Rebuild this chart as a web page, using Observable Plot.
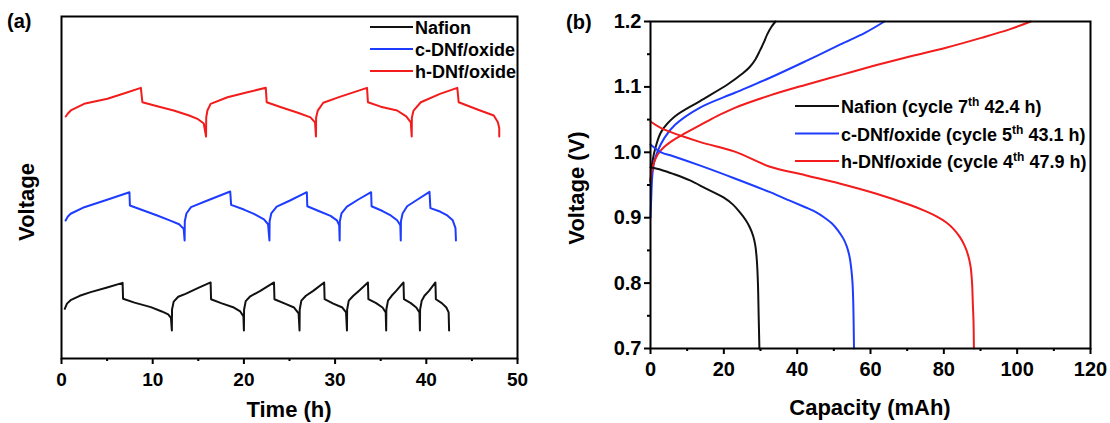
<!DOCTYPE html>
<html><head><meta charset="utf-8">
<script src="https://cdn.jsdelivr.net/npm/d3@7"></script>
<script src="https://cdn.jsdelivr.net/npm/@observablehq/plot@0.6"></script>
<style>
body{margin:0;background:#fff;}
#wrap{position:relative;width:1110px;height:423px;overflow:hidden;background:#fff;}
#wrap > svg{position:absolute;top:0;}
</style></head><body><div id="wrap"></div>
<script>
// ---------- names & colours ----------
const seriesNames = ["Nafion", "c-DNf/oxide", "h-DNf/oxide"];
const seriesColors = ["#111111", "#1e3cff", "#f21c1c"];
const rightLegend = [
  ["Nafion (cycle 7", "th", " 42.4 h)"],
  ["c-DNf/oxide (cycle 5", "th", " 43.1 h)"],
  ["h-DNf/oxide (cycle 4", "th", " 47.9 h)"]
];

// ---------- panel (a): time (h) vs stacked voltage (a.u.) ----------
const nafionTime = [
  [0.36,0.507],[0.6,0.56],[1.0,0.595],[2.0,0.64],[3.2,0.677],[5.0,0.725],[6.7,0.772],
  [6.75,0.61],[8.0,0.57],[9.8,0.524],[11.0,0.48],[11.7,0.45],[12.0,0.415],[12.1,0.286],
  [12.12,0.50],[12.3,0.58],[12.8,0.63],[13.6,0.66],[15.0,0.72],[16.35,0.776],
  [16.4,0.605],[17.5,0.565],[18.9,0.52],[19.6,0.48],[19.95,0.43],[20.0,0.286],
  [20.02,0.50],[20.2,0.585],[20.7,0.635],[21.8,0.69],[23.3,0.776],
  [23.35,0.605],[24.5,0.56],[25.5,0.52],[26.0,0.46],[26.1,0.286],
  [26.12,0.50],[26.3,0.59],[26.8,0.64],[27.6,0.69],[28.8,0.776],
  [28.85,0.605],[29.8,0.56],[30.8,0.52],[31.2,0.47],[31.3,0.286],
  [31.32,0.50],[31.5,0.59],[32.0,0.64],[32.6,0.69],[33.6,0.776],
  [33.65,0.605],[34.5,0.565],[35.2,0.52],[35.55,0.47],[35.6,0.286],
  [35.62,0.50],[35.8,0.59],[36.2,0.64],[36.7,0.69],[37.5,0.776],
  [37.55,0.605],[38.3,0.565],[38.9,0.52],[39.25,0.47],[39.3,0.286],
  [39.32,0.50],[39.5,0.59],[39.8,0.64],[40.3,0.69],[41.0,0.776],
  [41.05,0.605],[41.7,0.565],[42.2,0.52],[42.45,0.47],[42.5,0.286]
];
const cdnfTime = [
  [0.45,1.408],[0.7,1.45],[1.0,1.477],[2.5,1.544],[5.0,1.62],[7.45,1.697],
  [7.5,1.561],[9.0,1.51],[10.5,1.459],[12.0,1.405],[12.9,1.37],[13.4,1.323],[13.5,1.204],
  [13.52,1.40],[13.7,1.48],[14.2,1.544],[16.0,1.612],[18.5,1.704],
  [18.6,1.568],[20.0,1.52],[21.1,1.476],[22.2,1.42],[22.65,1.37],[22.8,1.204],
  [22.82,1.40],[23.0,1.48],[23.6,1.55],[25.0,1.61],[26.9,1.697],
  [26.95,1.554],[28.2,1.505],[29.5,1.455],[30.2,1.41],[30.45,1.36],[30.5,1.204],
  [30.52,1.40],[30.7,1.48],[31.3,1.55],[32.5,1.62],[33.95,1.697],
  [34.0,1.554],[35.2,1.505],[36.1,1.46],[36.8,1.41],[37.15,1.36],[37.2,1.204],
  [37.22,1.40],[37.4,1.48],[37.9,1.554],[39.0,1.62],[40.35,1.70],
  [40.45,1.535],[41.5,1.50],[42.3,1.46],[42.9,1.41],[43.2,1.33],[43.25,1.204]
];
const hdnfTime = [
  [0.47,2.469],[0.7,2.50],[1.02,2.531],[2.48,2.599],[5.04,2.65],[7.0,2.71],[8.7,2.762],
  [8.87,2.615],[10.5,2.575],[12.3,2.531],[14.0,2.48],[14.9,2.446],[15.6,2.398],[15.85,2.265],
  [15.87,2.46],[16.0,2.531],[16.35,2.599],[18.2,2.666],[20.5,2.72],[22.4,2.762],
  [22.5,2.615],[24.0,2.567],[26.0,2.505],[27.3,2.46],[27.8,2.41],[27.9,2.265],
  [27.92,2.46],[28.1,2.53],[28.7,2.61],[30.5,2.67],[33.5,2.762],
  [33.6,2.615],[35.0,2.57],[36.8,2.531],[37.8,2.47],[38.3,2.41],[38.4,2.265],
  [38.42,2.46],[38.6,2.53],[39.4,2.615],[41.5,2.70],[43.4,2.762],
  [43.55,2.615],[45.9,2.531],[47.4,2.48],[47.85,2.41],[48.0,2.35],[48.0,2.265]
];
const timeTicks = [0, 10, 20, 30, 40, 50];
const timeMinorTicks = [5, 15, 25, 35, 45];

// ---------- panel (b): capacity (mAh) vs voltage (V) ----------
const nafionCharge = [[0,0.955],[0.5,0.985],[1.5,1.01],[3.0,1.032],[6.7,1.055],[13.4,1.078],[21.1,1.104],[25,1.12],[27,1.13],[28.6,1.142],[29.8,1.155],[30.9,1.168],[31.8,1.18],[33,1.192],[34.1,1.2]];
const cdnfCharge = [[0,0.90],[0.2,0.93],[0.5,0.965],[1.0,0.985],[1.9,1.001],[3.8,1.022],[6.7,1.042],[13.4,1.068],[23,1.091],[32.6,1.114],[42.2,1.139],[51.8,1.165],[58.6,1.183],[63.8,1.2]];
const hdnfCharge = [[0,0.955],[0.3,0.97],[1,0.985],[2,0.997],[3.5,1.007],[5.5,1.016],[8.5,1.026],[13.4,1.041],[18,1.055],[23,1.068],[32.6,1.087],[42.2,1.103],[51.8,1.118],[61.4,1.133],[71,1.147],[80.6,1.16],[90.2,1.175],[97.9,1.188],[103.7,1.2]];
const nafionDischarge = [[0,0.977],[3,0.973],[6.2,0.967],[10.8,0.957],[15.3,0.944],[19.9,0.931],[22.5,0.92],[24.4,0.908],[26,0.896],[27.1,0.885],[28,0.872],[28.6,0.857],[29,0.835],[29.3,0.8],[29.5,0.75],[29.7,0.7]];
const cdnfDischarge = [[0,1.012],[2.9,1.0],[6.2,0.994],[13.4,0.98],[23,0.96],[32.6,0.939],[38,0.926],[42.2,0.916],[45,0.909],[47.5,0.9],[49.5,0.891],[51.2,0.88],[52.6,0.868],[53.6,0.855],[54.3,0.84],[54.8,0.82],[55.1,0.8],[55.3,0.77],[55.4,0.74],[55.5,0.7]];
const hdnfDischarge = [[0,1.047],[2.9,1.037],[13.4,1.016],[23,1.001],[32.6,0.978],[42.2,0.965],[51.8,0.952],[61.4,0.937],[71,0.919],[75,0.91],[78,0.902],[80.6,0.893],[82.6,0.883],[84.3,0.871],[85.6,0.858],[86.6,0.843],[87.3,0.825],[87.7,0.8],[87.9,0.77],[88.1,0.74],[88.2,0.7]];
const capTicks = [0, 20, 40, 60, 80, 100, 120];
const capMinorTicks = [10, 30, 50, 70, 90, 110];
const voltTicks = [0.7, 0.8, 0.9, 1.0, 1.1, 1.2];
const voltMinorTicks = [0.75, 0.85, 0.95, 1.05, 1.15];

// ---------- build tables ----------
const timeRows = [nafionTime, cdnfTime, hdnfTime].flatMap((arr, i) =>
  arr.map(([t, v]) => ({series: seriesNames[i], t, v})));
const capSets = [
  [nafionCharge, 0, "c"], [cdnfCharge, 1, "c"], [hdnfCharge, 2, "c"],
  [nafionDischarge, 0, "d"], [cdnfDischarge, 1, "d"], [hdnfDischarge, 2, "d"]
];
const capRows = capSets.flatMap(([arr, i, k]) =>
  arr.map(([c, v]) => ({series: seriesNames[i], key: seriesNames[i] + k, c, v})));

const FONT = "'Liberation Sans', Arial, sans-serif";
const colorScale = {domain: seriesNames, range: seriesColors};

const left = Plot.plot({
  width: 555, height: 423,
  marginLeft: 61, marginRight: 38, marginTop: 16, marginBottom: 65,
  x: {domain: [0, 50]},
  y: {domain: [0, 3.49], axis: null},
  color: colorScale,
  style: {fontFamily: FONT, fontWeight: "bold", fontSize: "19px", background: "transparent", overflow: "visible", color: "#000"},
  marks: [
    Plot.line(timeRows, {x: "t", y: "v", z: "series", stroke: "series", strokeWidth: 2}),
    Plot.frame({stroke: "#000", strokeWidth: 2}),
    Plot.axisX(timeTicks, {tickSize: 6, tickPadding: 8, strokeWidth: 2, label: null}),
    Plot.axisX(timeMinorTicks, {tickSize: 3, text: null, strokeWidth: 2, label: null})
  ]
});
left.style.left = "0px";

const right = Plot.plot({
  width: 555, height: 423,
  marginLeft: 95, marginRight: 20, marginTop: 21, marginBottom: 75,
  x: {domain: [0, 120]},
  y: {domain: [0.7, 1.2]},
  color: colorScale,
  style: {fontFamily: FONT, fontWeight: "bold", fontSize: "20px", background: "transparent", overflow: "visible", color: "#000"},
  marks: [
    Plot.line(capRows, {x: "c", y: "v", z: "key", stroke: "series", strokeWidth: 2, curve: "catmull-rom"}),
    Plot.frame({stroke: "#000", strokeWidth: 2}),
    Plot.axisX(capTicks, {tickSize: 6, tickPadding: 7, strokeWidth: 2, label: null}),
    Plot.axisX(capMinorTicks, {tickSize: 3, text: null, strokeWidth: 2, label: null}),
    Plot.axisY(voltTicks, {tickSize: 6, tickPadding: 3, strokeWidth: 2, tickFormat: d => d.toFixed(1), label: null}),
    Plot.axisY(voltMinorTicks, {tickSize: 3, text: null, strokeWidth: 2, label: null})
  ]
});
right.style.left = "555px";

const wrap = document.getElementById("wrap");
wrap.append(left, right);

// ---------- annotation overlay: panel letters, axis titles, legends ----------
const ov = d3.create("svg").attr("width", 1110).attr("height", 423)
  .style("left", "0px").style("pointer-events", "none")
  .attr("font-family", FONT).attr("font-weight", "bold").attr("fill", "#000");

ov.append("text").attr("x", 7).attr("y", 28).attr("font-size", 20).text("(a)");
ov.append("text").attr("x", 566).attr("y", 29).attr("font-size", 20).text("(b)");
ov.append("text").attr("transform", "translate(33.5,202) rotate(-90)").attr("text-anchor", "middle").attr("font-size", 22).text("Voltage");
ov.append("text").attr("x", 289).attr("y", 417).attr("text-anchor", "middle").attr("font-size", 22).text("Time (h)");
ov.append("text").attr("x", 870).attr("y", 415).attr("text-anchor", "middle").attr("font-size", 22).text("Capacity (mAh)");
ov.append("text").attr("transform", "translate(584,188) rotate(-90)").attr("text-anchor", "middle").attr("font-size", 22).text("Voltage (V)");

// left legend
seriesNames.forEach((name, i) => {
  const y = 27 + i * 22;
  ov.append("line").attr("x1", 370).attr("x2", 413).attr("y1", y).attr("y2", y)
    .attr("stroke", seriesColors[i]).attr("stroke-width", 2);
  ov.append("text").attr("x", 415).attr("y", y + 6.5).attr("font-size", 18).text(name);
});
// right legend
rightLegend.forEach((parts, i) => {
  const y = 106 + i * 27.5;
  ov.append("line").attr("x1", 795).attr("x2", 839).attr("y1", y).attr("y2", y)
    .attr("stroke", seriesColors[i]).attr("stroke-width", 2);
  const t = ov.append("text").attr("x", 841).attr("y", y + 7).attr("font-size", 18);
  t.append("tspan").text(parts[0]);
  t.append("tspan").attr("font-size", 12).attr("dy", -7).text(parts[1]);
  t.append("tspan").attr("dy", 7).text(parts[2]);
});
wrap.append(ov.node());
</script>
</body></html>
